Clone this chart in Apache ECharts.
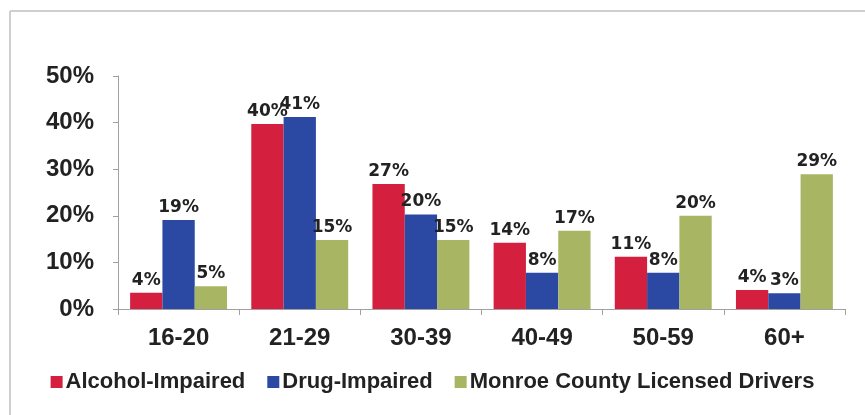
<!DOCTYPE html>
<html>
<head>
<meta charset="utf-8">
<style>html,body{margin:0;padding:0;background:#fff}#c{width:865px;height:415px}</style>
<script src="https://cdn.jsdelivr.net/npm/echarts@6/dist/echarts.min.js"></script>
</head>
<body>
<div id="c"></div>
<script>
var categories = ['16-20', '21-29', '30-39', '40-49', '50-59', '60+'];
var seriesNames = ['Alcohol-Impaired', 'Drug-Impaired', 'Monroe County Licensed Drivers'];
var alcohol = [3.5, 39.7, 26.8, 14.2, 11.2, 4.1];
var drug = [19.1, 41.2, 20.3, 7.8, 7.8, 3.4];
var drivers = [4.9, 14.8, 14.8, 16.8, 20.0, 28.9];
var yTicks = [0, 10, 20, 30, 40, 50];
var colors = ['#d41f3e', '#2b49a3', '#a8b664'];

var chart = echarts.init(document.getElementById('c'));
var labelStyle = {
  show: true, position: 'top', distance: 4,
  fontFamily: 'DejaVu Sans', fontWeight: 'bold', fontSize: 17, color: '#222',
  formatter: function (p) { return Math.round(p.value) + '%'; }
};
function mk(name, data, color) {
  return { name: name, type: 'bar', data: data, barGap: '0%', barCategoryGap: '20%',
    itemStyle: { color: color }, label: labelStyle };
}
chart.setOption({
  animation: false,
  color: colors,
  grid: { left: 118, right: 20, top: 76, bottom: 106 },
  legend: {
    data: seriesNames, left: 'center', top: 366, icon: 'rect',
    itemWidth: 12, itemHeight: 12, itemGap: 22,
    textStyle: { fontFamily: 'Liberation Sans', fontWeight: 'bold', fontSize: 22, color: '#222', padding: [0, 0, 0, -2] }
  },
  xAxis: {
    type: 'category', data: categories,
    axisLine: { lineStyle: { color: '#a0a0a0', width: 1 } },
    axisTick: { show: true, length: 6, lineStyle: { color: '#a0a0a0' } },
    axisLabel: { margin: 17, fontFamily: 'Liberation Sans', fontWeight: 'bold', fontSize: 24, color: '#222' }
  },
  yAxis: {
    type: 'value', min: 0, max: 50, interval: 10,
    axisLine: { show: true, lineStyle: { color: '#a0a0a0', width: 1 } },
    axisTick: { show: true, length: 5, lineStyle: { color: '#a0a0a0' } },
    splitLine: { show: false },
    axisLabel: { margin: 24, fontFamily: 'Liberation Sans', fontWeight: 'bold', fontSize: 24, color: '#222',
      formatter: function (v) { return yTicks.indexOf(v) >= 0 ? v + '%' : ''; } }
  },
  graphic: [
    { type: 'line', shape: { x1: 10, y1: 11, x2: 865, y2: 11 }, style: { stroke: '#cfcfcf', lineWidth: 2 } },
    { type: 'line', shape: { x1: 10, y1: 11, x2: 10, y2: 415 }, style: { stroke: '#cfcfcf', lineWidth: 2 } }
  ],
  series: [
    mk(seriesNames[0], alcohol, colors[0]),
    mk(seriesNames[1], drug, colors[1]),
    mk(seriesNames[2], drivers, colors[2])
  ]
});
</script>
</body>
</html>
